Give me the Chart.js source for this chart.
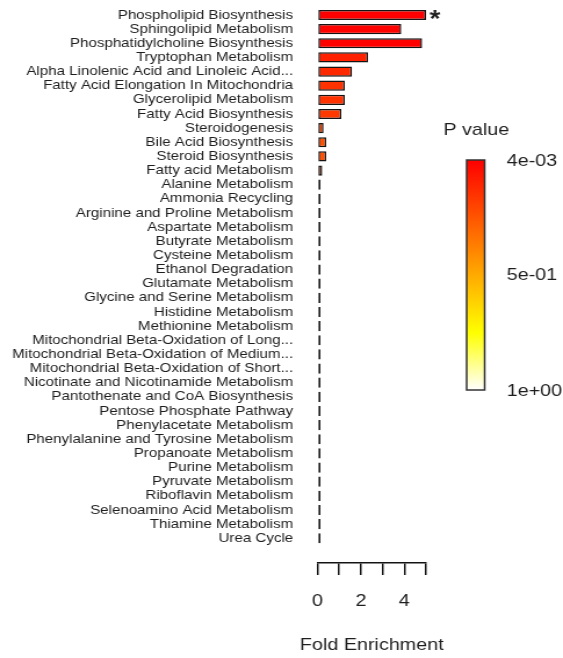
<!DOCTYPE html>
<html>
<head>
<meta charset="utf-8">
<script src="https://cdn.jsdelivr.net/npm/chart.js@4/dist/chart.umd.min.js"></script>
<style>
  html, body { margin: 0; padding: 0; background: #fff; overflow: hidden; }
  /* the plot is laid out at a narrower width and widened horizontally */
  #wrap { width: 485px; height: 658px; transform: scaleX(1.1608); transform-origin: 0 0; }
  canvas { display: block; }
</style>
</head>
<body>
<div id="wrap"><canvas id="chart" width="485" height="658"></canvas></div>
<script>
// Pathway enrichment results, top to bottom
const pathways = [
  'Phospholipid Biosynthesis',
  'Sphingolipid Metabolism',
  'Phosphatidylcholine Biosynthesis',
  'Tryptophan Metabolism',
  'Alpha Linolenic Acid and Linoleic Acid...',
  'Fatty Acid Elongation In Mitochondria',
  'Glycerolipid Metabolism',
  'Fatty Acid Biosynthesis',
  'Steroidogenesis',
  'Bile Acid Biosynthesis',
  'Steroid Biosynthesis',
  'Fatty acid Metabolism',
  'Alanine Metabolism',
  'Ammonia Recycling',
  'Arginine and Proline Metabolism',
  'Aspartate Metabolism',
  'Butyrate Metabolism',
  'Cysteine Metabolism',
  'Ethanol Degradation',
  'Glutamate Metabolism',
  'Glycine and Serine Metabolism',
  'Histidine Metabolism',
  'Methionine Metabolism',
  'Mitochondrial Beta-Oxidation of Long...',
  'Mitochondrial Beta-Oxidation of Medium...',
  'Mitochondrial Beta-Oxidation of Short...',
  'Nicotinate and Nicotinamide Metabolism',
  'Pantothenate and CoA Biosynthesis',
  'Pentose Phosphate Pathway',
  'Phenylacetate Metabolism',
  'Phenylalanine and Tyrosine Metabolism',
  'Propanoate Metabolism',
  'Purine Metabolism',
  'Pyruvate Metabolism',
  'Riboflavin Metabolism',
  'Selenoamino Acid Metabolism',
  'Thiamine Metabolism',
  'Urea Cycle'
];

const foldEnrichment = [
  5.0, 3.86, 4.82, 2.33, 1.59, 1.26, 1.26, 1.1, 0.28, 0.4, 0.4, 0.22,
  0, 0, 0, 0, 0, 0, 0, 0, 0, 0, 0, 0, 0, 0, 0, 0, 0, 0, 0, 0, 0, 0, 0, 0, 0, 0
];

const pValues = [
  0.004, 0.012, 0.01, 0.1, 0.125, 0.15, 0.15, 0.17, 0.22, 0.235, 0.235, 0.25,
  1, 1, 1, 1, 1, 1, 1, 1, 1, 1, 1, 1, 1, 1, 1, 1, 1, 1, 1, 1, 1, 1, 1, 1, 1, 1
];

// significance marks printed after a bar
const significance = ['*'];

const xTicks = [0, 1, 2, 3, 4, 5];
const xTickLabels = ['0', '', '2', '', '4', ''];
const xTitle = 'Fold Enrichment';

const keyTicks = [0.004, 0.5, 1];
const keyTickLabels = ['4e-03', '5e-01', '1e+00'];
const keyTitle = 'P value';

const FONT = "'Liberation Sans', Arial, Helvetica, sans-serif";
const INK = '#1e1e1e';

// heat palette: red -> yellow -> white as the p value grows
const heatStops = [[0, [255, 0, 0]], [0.75, [255, 255, 0]], [1, [255, 255, 255]]];
const pMin = Math.min(...keyTicks), pMax = Math.max(...keyTicks);
function heatColor(p) {
  const t = Math.min(1, Math.max(0, (p - pMin) / (pMax - pMin)));
  for (let i = 1; i < heatStops.length; i++) {
    const [t0, c0] = heatStops[i - 1], [t1, c1] = heatStops[i];
    if (t <= t1) {
      const f = (t - t0) / (t1 - t0);
      const c = c0.map((v, k) => Math.round(v + (c1[k] - v) * f));
      return `rgb(${c[0]},${c[1]},${c[2]})`;
    }
  }
  return 'rgb(255,255,255)';
}

const extras = {
  id: 'extras',
  afterDatasetsDraw(chart) {
    const { ctx, chartArea } = chart;
    const xs = chart.scales.x, ys = chart.scales.y;
    ctx.save();

    // significance stars
    ctx.fillStyle = INK;
    ctx.font = `bold 24px ${FONT}`;
    ctx.textAlign = 'left';
    ctx.textBaseline = 'alphabetic';
    significance.forEach((s, i) => {
      if (!s) return;
      ctx.fillText(s, xs.getPixelForValue(foldEnrichment[i]) + 3, ys.getPixelForValue(i) + 12.5);
    });

    // axis title, centred under the plotting region
    ctx.font = `17px ${FONT}`;
    ctx.textAlign = 'center';
    ctx.textBaseline = 'middle';
    ctx.fillText(xTitle, (chartArea.left + chartArea.right) / 2, 645);

    // colour key
    const kx = chartArea.right + 35, kw = 15.5, ky0 = 160, ky1 = 390;
    const grad = ctx.createLinearGradient(0, ky0, 0, ky1);
    heatStops.forEach(([t, c]) => grad.addColorStop(t, `rgb(${c[0]},${c[1]},${c[2]})`));
    ctx.fillStyle = grad;
    ctx.fillRect(kx, ky0, kw, ky1 - ky0);
    ctx.strokeStyle = '#333';
    ctx.lineWidth = 1.5;
    ctx.strokeRect(kx, ky0, kw, ky1 - ky0);

    ctx.fillStyle = INK;
    ctx.textAlign = 'left';
    ctx.fillText(keyTitle, kx - 20, 130);
    keyTicks.forEach((p, i) => {
      const yy = ky0 + (ky1 - ky0) * (p - pMin) / (pMax - pMin);
      ctx.fillText(keyTickLabels[i], kx + 34.5, yy + 1);
    });
    ctx.restore();
  }
};

Chart.defaults.font.family = FONT;
Chart.defaults.color = INK;

new Chart(document.getElementById('chart'), {
  type: 'bar',
  data: {
    datasets: [{
      data: foldEnrichment.map((v, i) => ({ x: v, y: i })),
      backgroundColor: pValues.map(heatColor),
      borderColor: '#141414',
      borderWidth: 1.5,
      borderSkipped: false,
      minBarLength: 2.6,
      categoryPercentage: 1,
      barPercentage: 0.72
    }]
  },
  options: {
    indexAxis: 'y',
    responsive: false,
    animation: false,
    events: [],
    layout: { padding: { top: 6.5, right: 118, bottom: 0, left: 0 } },
    plugins: { legend: { display: false }, tooltip: { enabled: false } },
    scales: {
      y: {
        type: 'linear',
        reverse: true,
        offset: false,
        min: -0.6,
        max: 38.75,
        grid: { display: false, drawTicks: false, tickLength: 0 },
        border: { display: false },
        afterBuildTicks: s => { s.ticks = pathways.map((_, i) => ({ value: i })); },
        afterFit: s => { s.width = 273.5; s.paddingTop = 0; s.paddingBottom = 0; },
        ticks: {
          autoSkip: false,
          padding: 21,
          color: INK,
          font: { size: 13 },
          callback: v => pathways[v] ?? ''
        }
      },
      x: {
        type: 'linear',
        min: 0,
        max: 5,
        grid: {
          display: true,
          drawOnChartArea: false,
          drawTicks: true,
          tickLength: 12,
          color: '#141414',
          lineWidth: 1.5
        },
        border: { display: true, color: '#141414', width: 1.5 },
        afterBuildTicks: s => { s.ticks = xTicks.map(v => ({ value: v })); },
        afterFit: s => { s.height = 95; s.paddingLeft = 0; s.paddingRight = 0; },
        ticks: {
          autoSkip: false,
          maxRotation: 0,
          padding: 16,
          color: INK,
          font: { size: 17 },
          callback: (v, i) => xTickLabels[i]
        }
      }
    }
  },
  plugins: [extras]
});
</script>
</body>
</html>
